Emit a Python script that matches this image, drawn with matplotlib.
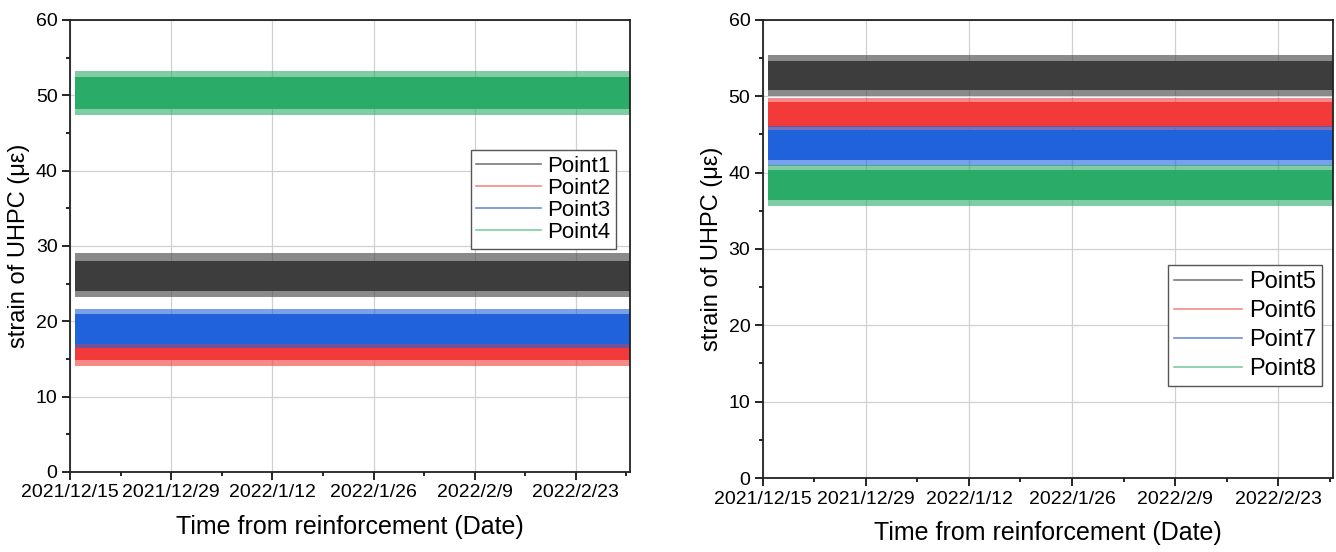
import numpy as np
import pandas as pd
import matplotlib
matplotlib.use("Agg")
import matplotlib.pyplot as plt
from matplotlib.lines import Line2D
from matplotlib.ticker import MultipleLocator

plt.rcParams['font.family'] = ['Liberation Sans', 'DejaVu Sans']

# monitoring period
start_date = "2021-12-15 16:00"
end_date = "2022-03-02 12:00"
tick_dates = ["2021-12-15", "2021-12-29", "2022-01-12", "2022-01-26", "2022-02-09", "2022-02-23"]
tick_labels = ["2021/12/15", "2021/12/29", "2022/1/12", "2022/1/26", "2022/2/9", "2022/2/23"]

# strain fluctuation range of each measuring point, read off the chart
# low/high = extreme spikes, core_low/core_high = dense part of the signal
left_names = ["Point1", "Point2", "Point3", "Point4"]
left_low = [23.2, 14.0, 16.4, 47.4]
left_high = [29.0, 18.4, 21.6, 53.2]
left_core_low = [24.0, 14.8, 17.0, 48.2]
left_core_high = [28.0, 17.4, 21.0, 52.4]

right_names = ["Point5", "Point6", "Point7", "Point8"]
right_low = [50.0, 45.2, 40.8, 35.6]
right_high = [55.4, 49.8, 46.1, 41.0]
right_core_low = [50.8, 46.0, 41.6, 36.4]
right_core_high = [54.6, 49.3, 45.6, 40.3]

colors = ["#3d3d3d", "#f23a3a", "#1f62dc", "#2bab68"]
legend_colors = ["#7a7a7a", "#f58a8a", "#6a8fd8", "#7ccca0"]


def draw_panel(ax, names, low, high, core_low, core_high, legend_anchor, lfs, lsp):
    t = pd.to_datetime([start_date, end_date])
    for lo, hi, clo, chi, c in zip(low, high, core_low, core_high, colors):
        ax.fill_between(t, [lo, lo], [hi, hi], color=c, alpha=0.6, linewidth=0, zorder=2)
        ax.fill_between(t, [clo, clo], [chi, chi], color=c, linewidth=0, zorder=2)
    ax.set_xlim(pd.Timestamp("2021-12-15"), pd.Timestamp(end_date))
    ax.set_ylim(0, 60)
    ax.yaxis.set_major_locator(MultipleLocator(10))
    ax.yaxis.set_minor_locator(MultipleLocator(5))
    ax.set_xticks(pd.to_datetime(tick_dates))
    ax.set_xticklabels(tick_labels)
    minor = pd.to_datetime(tick_dates) + pd.Timedelta(days=7)
    ax.set_xticks(minor, minor=True)
    ax.tick_params(which="both", direction="out", labelsize=14, width=1.2, pad=3)
    ax.tick_params(which="major", length=6)
    ax.tick_params(which="minor", length=3)
    ax.grid(True, which="major", color="#d0d0d0", linewidth=0.9, zorder=0)
    ax.set_axisbelow(True)
    for s in ax.spines.values():
        s.set_linewidth(1.3)
        s.set_color("#222222")
    ax.set_xlabel("Time from reinforcement (Date)", fontsize=18, labelpad=10)
    ax.set_ylabel("strain of UHPC (με)", fontsize=17, labelpad=4)
    handles = [Line2D([], [], color=c, linewidth=1.2) for c in legend_colors]
    ax.legend(handles, names, loc="upper right", bbox_to_anchor=legend_anchor,
              fontsize=lfs, frameon=True, fancybox=False, framealpha=1,
              edgecolor="#555555", handlelength=2.9, handletextpad=0.3, borderpad=0.25,
              labelspacing=lsp, borderaxespad=0)


fig = plt.figure(figsize=(13.36, 5.52), dpi=100)
ax1 = fig.add_axes([0.0524, 0.145, 0.4192, 0.819])
ax2 = fig.add_axes([0.571, 0.134, 0.427, 0.83])

draw_panel(ax1, left_names, left_low, left_high, left_core_low, left_core_high,
           (0.975, 0.712), 16, 0.05)
draw_panel(ax2, right_names, right_low, right_high, right_core_low, right_core_high,
           (0.981, 0.465), 17, 0.3)

fig.savefig("out.png", dpi=100)
